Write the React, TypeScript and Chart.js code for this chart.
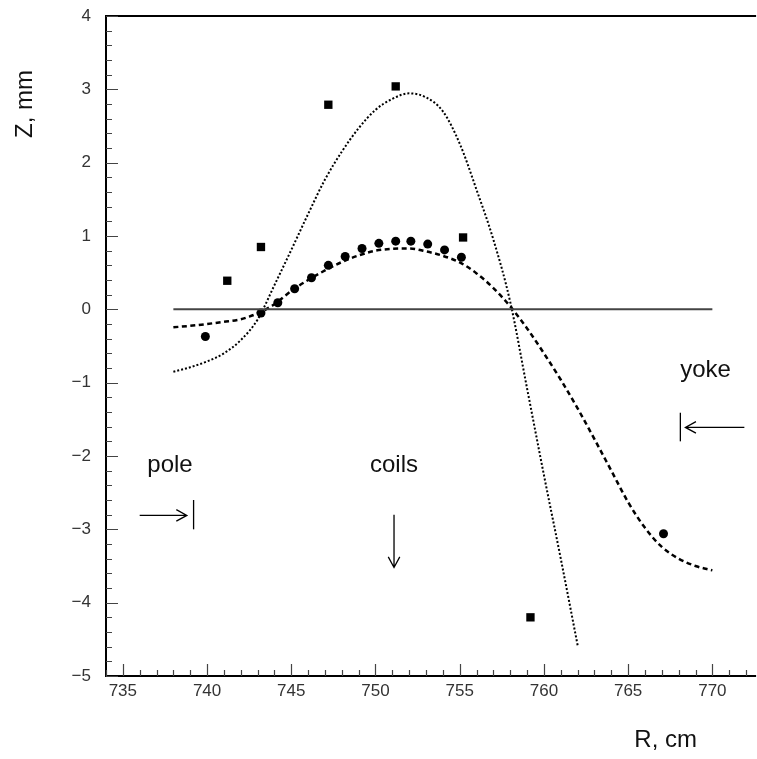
import React, { useEffect, useRef } from 'react';
import { Chart, registerables } from 'chart.js';

Chart.register(...registerables);

// ---- axes ----
const X_MIN = 734;
const X_MAX = 772.3;
const Y_MIN = -5;
const Y_MAX = 4;
const xTickValues = [735, 740, 745, 750, 755, 760, 765, 770];
const yTickValues = [-5, -4, -3, -2, -1, 0, 1, 2, 3, 4];
const xTitle = 'R, cm';
const yTitle = 'Z, mm';

// ---- measured points ----
const circleR = [739.9, 743.2, 744.2, 745.2, 746.2, 747.2, 748.2, 749.2, 750.2, 751.2, 752.1, 753.1, 754.1, 755.1, 767.1];
const circleZ = [-0.37, -0.05, 0.09, 0.28, 0.43, 0.6, 0.72, 0.83, 0.9, 0.93, 0.93, 0.89, 0.81, 0.71, -3.06];

const squareR = [741.2, 743.2, 747.2, 751.2, 755.2, 759.2];
const squareZ = [0.39, 0.85, 2.79, 3.04, 0.98, -4.2];

// ---- fitted curves ----
const dashedR = [738, 739, 740, 741, 742, 742.5, 743, 743.5, 744, 745, 746, 747, 748, 749, 750, 751, 752, 753, 754, 755, 756, 757, 758, 759, 760, 761, 762, 763, 764, 765, 766, 767, 768, 769, 770];
const dashedZ = [-0.245, -0.225, -0.2, -0.17, -0.135, -0.1, -0.055, 0.0, 0.07, 0.25, 0.4, 0.53, 0.645, 0.735, 0.8, 0.825, 0.83, 0.79, 0.73, 0.64, 0.49, 0.29, 0.04, -0.26, -0.6, -0.96, -1.35, -1.77, -2.2, -2.63, -2.98, -3.24, -3.4, -3.5, -3.56];

const dottedR = [738, 739, 740, 741, 742, 743, 744, 745, 746, 747, 748, 749, 750, 751, 752, 753, 754, 755, 756, 757, 758, 759, 760, 761, 762];
const dottedZ = [-0.85, -0.79, -0.71, -0.6, -0.42, -0.14, 0.33, 0.81, 1.3, 1.77, 2.15, 2.47, 2.72, 2.87, 2.945, 2.89, 2.7, 2.26, 1.63, 0.95, 0.1, -1.08, -2.26, -3.4, -4.58];

const zeroLineR = [738, 770];
const zeroLineZ = [0, 0];

// ---- annotations (data units) ----
const noteText = ['pole', 'coils', 'yoke'];
const noteR = [737.8, 751.1, 769.6];
const noteZ = [-2.22, -2.22, -0.92];

const arrowFromR = [736.0, 751.1, 771.9];
const arrowFromZ = [-2.81, -2.8, -1.61];
const arrowToR = [738.8, 751.1, 768.4];
const arrowToZ = [-2.81, -3.52, -1.61];

const barR = [739.2, 768.1];
const barZlo = [-3.0, -1.8];
const barZhi = [-2.6, -1.41];

const FONT = '"Liberation Sans", Arial, Helvetica, sans-serif';

const zip = (xs: number[], ys: number[]) => xs.map((x, i) => ({ x, y: ys[i] }));

const fmt = (v: number) => (v < 0 ? '\u2212' + Math.abs(v) : String(v));

const decorPlugin = {
  id: 'decor',
  afterDraw(chart: any) {
    const { ctx, chartArea: a, scales } = chart;
    const xs = scales.x;
    const ys = scales.y;
    ctx.save();
    // frame: left, bottom, top
    ctx.strokeStyle = '#000';
    ctx.lineWidth = 2;
    ctx.beginPath();
    ctx.moveTo(a.right + 5, a.top);
    ctx.lineTo(a.left, a.top);
    ctx.lineTo(a.left, a.bottom);
    ctx.lineTo(a.right + 5, a.bottom);
    ctx.stroke();

    // inward ticks
    ctx.strokeStyle = '#444';
    ctx.lineWidth = 1.2;
    ctx.beginPath();
    for (let v = Math.ceil(X_MIN); v <= X_MAX; v++) {
      const px = Math.round(xs.getPixelForValue(v)) + 0.5;
      const len = v % 5 === 0 ? 12 : 6;
      ctx.moveTo(px, a.bottom);
      ctx.lineTo(px, a.bottom - len);
    }
    for (let i = 0; i <= 45; i++) {
      const v = Y_MIN + i * 0.2;
      const py = Math.round(ys.getPixelForValue(v)) + 0.5;
      const len = i % 5 === 0 ? 12 : 6;
      ctx.moveTo(a.left, py);
      ctx.lineTo(a.left + len, py);
    }
    ctx.stroke();

    // annotation texts
    ctx.fillStyle = '#111';
    ctx.font = `24px ${FONT}`;
    ctx.textAlign = 'center';
    ctx.textBaseline = 'alphabetic';
    noteText.forEach((t, i) => {
      ctx.fillText(t, xs.getPixelForValue(noteR[i]), ys.getPixelForValue(noteZ[i]));
    });

    // arrows
    ctx.strokeStyle = '#000';
    ctx.lineWidth = 1.3;
    arrowFromR.forEach((r0, i) => {
      const x0 = xs.getPixelForValue(r0);
      const y0 = ys.getPixelForValue(arrowFromZ[i]);
      const x1 = xs.getPixelForValue(arrowToR[i]);
      const y1 = ys.getPixelForValue(arrowToZ[i]);
      const ang = Math.atan2(y1 - y0, x1 - x0);
      const hl = 12;
      const hw = 0.5;
      ctx.beginPath();
      ctx.moveTo(x0, y0);
      ctx.lineTo(x1, y1);
      ctx.moveTo(x1 - hl * Math.cos(ang - hw), y1 - hl * Math.sin(ang - hw));
      ctx.lineTo(x1, y1);
      ctx.lineTo(x1 - hl * Math.cos(ang + hw), y1 - hl * Math.sin(ang + hw));
      ctx.stroke();
    });
    // bars
    barR.forEach((r, i) => {
      const px = xs.getPixelForValue(r);
      ctx.beginPath();
      ctx.moveTo(px, ys.getPixelForValue(barZlo[i]));
      ctx.lineTo(px, ys.getPixelForValue(barZhi[i]));
      ctx.stroke();
    });

    // axis titles
    ctx.fillStyle = '#111';
    ctx.font = `24px ${FONT}`;
    ctx.textAlign = 'right';
    ctx.fillText(xTitle, 697, 747);
    ctx.save();
    ctx.translate(32, 104);
    ctx.rotate(-Math.PI / 2);
    ctx.textAlign = 'center';
    ctx.fillText(yTitle, 0, 0);
    ctx.restore();

    ctx.restore();
  },
};

export default function App() {
  const ref = useRef<HTMLCanvasElement>(null);
  useEffect(() => {
    if (!ref.current) return;
    const chart = new Chart(ref.current, {
      type: 'scatter',
      data: {
        datasets: [
          {
            label: 'zero',
            data: zip(zeroLineR, zeroLineZ),
            showLine: true,
            borderColor: '#444',
            borderWidth: 2,
            pointRadius: 0,
          },
          {
            label: 'fit dotted',
            data: zip(dottedR, dottedZ),
            showLine: true,
            borderColor: '#000',
            borderWidth: 2,
            borderDash: [2, 2],
            pointRadius: 0,
            cubicInterpolationMode: 'monotone',
          },
          {
            label: 'fit dashed',
            data: zip(dashedR, dashedZ),
            showLine: true,
            borderColor: '#000',
            borderWidth: 2.5,
            borderDash: [5, 3.5],
            pointRadius: 0,
            cubicInterpolationMode: 'monotone',
          },
          {
            label: 'circles',
            data: zip(circleR, circleZ),
            showLine: false,
            pointStyle: 'circle',
            pointRadius: 4.5,
            pointBackgroundColor: '#000',
            pointBorderWidth: 0,
          },
          {
            label: 'squares',
            data: zip(squareR, squareZ),
            showLine: false,
            pointStyle: 'rect',
            pointRadius: 5.9,
            pointBackgroundColor: '#000',
            pointBorderWidth: 0,
          },
        ],
      } as any,
      options: {
        animation: false,
        responsive: false,
        devicePixelRatio: 1,
        layout: { padding: { top: 16, right: 0, bottom: 0, left: 0 } },
        plugins: { legend: { display: false }, tooltip: { enabled: false } },
        scales: {
          x: {
            type: 'linear',
            min: X_MIN,
            max: X_MAX,
            grid: { display: false, drawTicks: false },
            border: { display: false },
            afterBuildTicks: (axis: any) => {
              axis.ticks = xTickValues.map((v) => ({ value: v }));
            },
            afterFit: (axis: any) => {
              axis.height = 83;
              axis.paddingLeft = 0;
              axis.paddingRight = 0;
            },
            ticks: {
              color: '#333',
              font: { family: FONT, size: 17 },
              padding: 5,
              maxRotation: 0,
              autoSkip: false,
              callback: (v: any) => fmt(Number(v)),
            },
          },
          y: {
            type: 'linear',
            min: Y_MIN,
            max: Y_MAX,
            grid: { display: false, drawTicks: false },
            border: { display: false },
            afterBuildTicks: (axis: any) => {
              axis.ticks = yTickValues.map((v) => ({ value: v }));
            },
            afterFit: (axis: any) => {
              axis.width = 106;
              axis.paddingTop = 0;
              axis.paddingBottom = 0;
            },
            ticks: {
              color: '#333',
              font: { family: FONT, size: 17 },
              padding: 15,
              autoSkip: false,
              callback: (v: any) => fmt(Number(v)),
            },
          },
        },
      } as any,
      plugins: [decorPlugin],
    });
    return () => chart.destroy();
  }, []);
  return (
    <div style={{ position: 'absolute', left: 0, top: 0, width: 757, height: 759 }}>
      <canvas ref={ref} width={757} height={759} style={{ width: 757, height: 759 }} />
    </div>
  );
}
